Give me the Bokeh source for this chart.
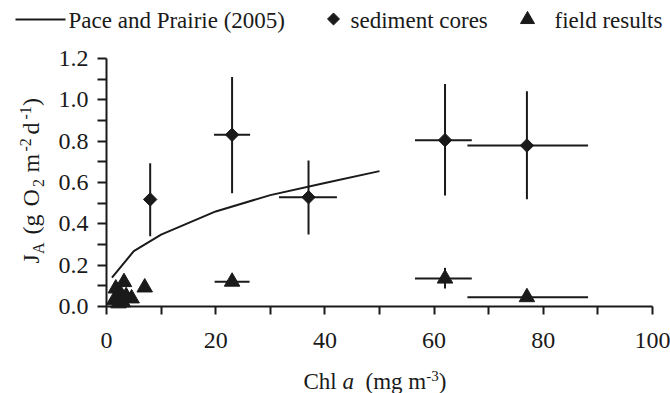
import numpy as np
from bokeh.plotting import figure
from bokeh.models import Range1d, FixedTicker, PrintfTickFormatter, Label
from bokeh.embed import file_html
from bokeh.resources import INLINE

FONT = "Liberation Serif"
INK = "#1a1a1a"

# ---------------- data ----------------
pace_chl = [1, 5, 10, 20, 30, 40, 50]
pace_ja = [0.14, 0.268, 0.348, 0.46, 0.539, 0.598, 0.655]

core_chl = [8, 23, 37, 62, 77]
core_ja = [0.518, 0.831, 0.529, 0.805, 0.779]
core_ja_lo = [0.34, 0.548, 0.348, 0.537, 0.519]
core_ja_hi = [0.693, 1.11, 0.706, 1.077, 1.042]
core_chl_lo = [8, 19.7, 31.6, 56.5, 66.1]
core_chl_hi = [8, 26.3, 42.2, 66.9, 88.2]

field_chl = [1.4, 1.7, 2.2, 2.6, 3.0, 3.2, 3.6, 4.6, 7.0, 23, 62, 77]
field_ja = [0.03, 0.087, 0.015, 0.06, 0.02, 0.118, 0.05, 0.039, 0.092, 0.12, 0.135, 0.045]
field_err_chl = [23, 62, 77]
field_err_ja = [0.12, 0.135, 0.045]
field_err_chl_lo = [19.8, 56.5, 66.1]
field_err_chl_hi = [26.2, 66.9, 88.2]
field_err_ja_lo = [0.12, 0.087, 0.045]
field_err_ja_hi = [0.12, 0.187, 0.045]

x_ticks = [0, 20, 40, 60, 80, 100]
x_minor = [10, 30, 50, 70, 90]
y_ticks = [0.0, 0.2, 0.4, 0.6, 0.8, 1.0, 1.2]
y_minor = [0.1, 0.3, 0.5, 0.7, 0.9, 1.1]

legend_labels = ["Pace and Prairie (2005)", "sediment cores", "field results"]

# ---------------- layout constants (page pixels) ----------------
W, H = 670, 393
FL, FR, FT, FB = 106, 652, 58, 306
XMIN, XMAX, YMIN, YMAX = 0, 100, 0, 1.2


def px2x(px):
    return XMIN + (px - FL) * (XMAX - XMIN) / (FR - FL)


def py2y(py):
    return YMIN + (FB - py) * (YMAX - YMIN) / (FB - FT)


# whole canvas is the frame; axes are pinned at the data origin
p = figure(width=W, height=H,
           x_range=Range1d(px2x(0), px2x(W)), y_range=Range1d(py2y(H), py2y(0)),
           output_backend="svg", toolbar_location=None, min_border=0)
p.outline_line_color = None
p.grid.visible = False
p.background_fill_color = "white"
p.border_fill_color = "white"

p.xaxis.ticker = FixedTicker(ticks=x_ticks, minor_ticks=x_minor)
p.yaxis.ticker = FixedTicker(ticks=y_ticks, minor_ticks=y_minor)
p.yaxis.formatter = PrintfTickFormatter(format="%.1f")
p.xaxis.fixed_location = YMIN
p.yaxis.fixed_location = XMIN
p.xaxis.bounds = (XMIN, XMAX)
p.yaxis.bounds = (YMIN, YMAX)

for ax in (p.xaxis, p.yaxis):
    ax.axis_line_color = INK
    ax.axis_line_width = 2
    ax.major_tick_line_color = INK
    ax.major_tick_line_width = 2
    ax.minor_tick_line_color = INK
    ax.minor_tick_line_width = 2
    ax.major_tick_in = 0
    ax.minor_tick_in = 0
    ax.major_label_text_font = FONT
    ax.major_label_text_font_size = "24px"
    ax.major_label_text_color = INK
p.xaxis.major_tick_out = 8
p.xaxis.minor_tick_out = 8
p.xaxis.major_label_standoff = 18
p.yaxis.major_tick_out = 9
p.yaxis.minor_tick_out = 9
p.yaxis.major_label_standoff = 9

# Pace and Prairie curve
p.line(pace_chl, pace_ja, line_color=INK, line_width=2)

# sediment cores error bars + markers
p.segment(x0=core_chl, y0=core_ja_lo, x1=core_chl, y1=core_ja_hi, line_color=INK, line_width=2)
p.segment(x0=core_chl_lo, y0=core_ja, x1=core_chl_hi, y1=core_ja, line_color=INK, line_width=2)
p.scatter(core_chl, core_ja, marker="square", angle=np.pi / 4, size=9.5,
          fill_color=INK, line_color=INK, line_width=1)

# field results error bars + markers
p.segment(x0=field_err_chl_lo, y0=field_err_ja, x1=field_err_chl_hi, y1=field_err_ja,
          line_color=INK, line_width=2)
p.segment(x0=field_err_chl, y0=field_err_ja_lo, x1=field_err_chl, y1=field_err_ja_hi,
          line_color=INK, line_width=2)
p.scatter(field_chl, field_ja, marker="triangle", size=15.5,
          fill_color=INK, line_color=INK, line_width=1)

# ---------------- legend (top strip) ----------------
p.line([px2x(15), px2x(65)], [py2y(19), py2y(19)], line_color=INK, line_width=2)
p.scatter([px2x(333)], [py2y(18.5)], marker="square", angle=np.pi / 4, size=8.5,
          fill_color=INK, line_color=INK, line_width=1)
p.scatter([px2x(527)], [py2y(19)], marker="triangle", size=14,
          fill_color=INK, line_color=INK, line_width=1)


def add_text(px, py, txt, size=23, rotated=False, shift=0, italic=False):
    """px, py: page position of the text start on its baseline.
    shift: baseline shift in px (positive = raised, superscript)."""
    corr = 0.3 * size  # compensates the renderer's baseline placement
    up = shift + corr
    if rotated:
        dx, dy, ang = -up, 0, np.pi / 2
    else:
        dx, dy, ang = 0, up, 0.0
    p.add_layout(Label(x=px2x(px), y=py2y(py), text=txt, text_font=FONT,
                       text_font_size=f"{size}px", text_color=INK, angle=ang,
                       x_offset=dx, y_offset=dy,
                       text_font_style="italic" if italic else "normal",
                       text_baseline="alphabetic", text_align="left"))


for lx, txt in zip([68, 350, 554], legend_labels):
    add_text(lx, 27, txt)

# x-axis title: Chl a (mg m^-3)
XB = 388
add_text(303, XB, "Chl")
add_text(342, XB, "a", italic=True)
add_text(365, XB, "(mg m")
add_text(425.7, XB, "-3", size=15, shift=8)
add_text(438.2, XB, ")")

# y-axis title: J_A (g O_2 m^-2 d^-1), rotated (reads bottom to top)
YBX = 38
add_text(YBX, 263, "J", size=24, rotated=True)
add_text(YBX, 253.5, "A", size=16, rotated=True, shift=-5)
add_text(YBX, 234, "(g", size=24, rotated=True)
add_text(YBX, 206, "O", size=24, rotated=True)
add_text(YBX, 186.5, "2", size=16, rotated=True, shift=-5)
add_text(YBX, 172, "m", size=24, rotated=True)
add_text(YBX, 151, "-2", size=16, rotated=True, shift=8)
add_text(YBX, 134, "d", size=24, rotated=True)
add_text(YBX, 119, "-1", size=16, rotated=True, shift=8)
add_text(YBX, 105.5, ")", size=24, rotated=True)

open("out.html", "w").write(file_html(p, INLINE))
